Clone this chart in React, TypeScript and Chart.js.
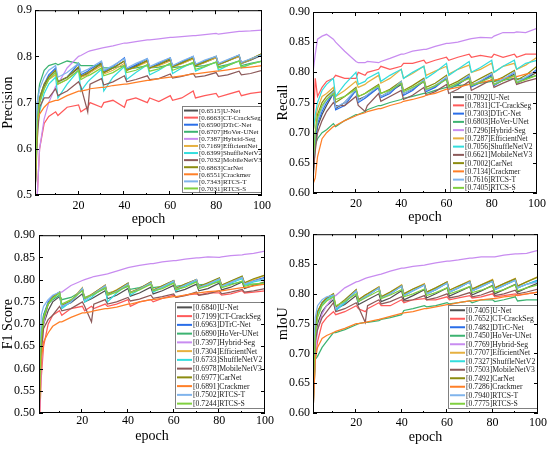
import React, { useEffect, useRef } from 'react';
import { Chart, ChartConfiguration, registerables } from 'chart.js';

Chart.register(...registerables);

const epochs = [1, 2, 3, 5, 7, 10, 11, 15, 20, 21, 24, 25, 30, 31, 35, 40, 41, 45, 50, 51, 55, 60, 61, 65, 70, 71, 75, 80, 81, 85, 90, 91, 95, 100];

const models = ['U-Net', 'CT-CrackSeg', 'DTrC-Net', 'HoVer-UNet', 'Hybrid-Seg', 'EfficientNet', 'ShuffleNetV2', 'MobileNetV3', 'CarNet', 'Crackmer', 'RTCS-T', 'RTCS-S'];

const precisionScores = [0.6515, 0.6663, 0.6590, 0.6707, 0.7387, 0.7169, 0.6399, 0.7032, 0.6863, 0.6551, 0.7343, 0.7031];
const recallScores = [0.7092, 0.7831, 0.7303, 0.6803, 0.7296, 0.7287, 0.7056, 0.6621, 0.7002, 0.7134, 0.7616, 0.7405];
const f1Scores = [0.6840, 0.7199, 0.6963, 0.6890, 0.7397, 0.7304, 0.6733, 0.6978, 0.6977, 0.6891, 0.7502, 0.7244];
const miouScores = [0.7405, 0.7652, 0.7482, 0.7450, 0.7769, 0.7707, 0.7327, 0.7503, 0.7492, 0.7286, 0.7940, 0.7775];

const precision = [
  [0.50, 0.66, 0.70, 0.735, 0.755, 0.77, 0.745, 0.755, 0.775, 0.755, 0.763, 0.766, 0.785, 0.765, 0.775, 0.79, 0.77, 0.78, 0.79, 0.775, 0.782, 0.792, 0.778, 0.785, 0.795, 0.78, 0.787, 0.797, 0.782, 0.79, 0.80, 0.785, 0.792, 0.803],
  [0.40, 0.50, 0.60, 0.655, 0.67, 0.68, 0.672, 0.69, 0.695, 0.68, 0.69, 0.70, 0.69, 0.70, 0.705, 0.69, 0.705, 0.71, 0.70, 0.71, 0.702, 0.715, 0.705, 0.71, 0.725, 0.71, 0.715, 0.72, 0.712, 0.718, 0.725, 0.715, 0.72, 0.723],
  [0.50, 0.67, 0.71, 0.74, 0.76, 0.775, 0.745, 0.755, 0.785, 0.76, 0.768, 0.772, 0.787, 0.768, 0.778, 0.797, 0.772, 0.782, 0.795, 0.775, 0.785, 0.797, 0.778, 0.788, 0.80, 0.782, 0.79, 0.80, 0.783, 0.792, 0.803, 0.785, 0.793, 0.805],
  [0.52, 0.70, 0.74, 0.77, 0.78, 0.785, 0.782, 0.79, 0.785, 0.78, 0.78, 0.78, 0.78, 0.775, 0.775, 0.78, 0.772, 0.775, 0.78, 0.775, 0.777, 0.782, 0.776, 0.778, 0.785, 0.778, 0.78, 0.787, 0.778, 0.782, 0.79, 0.78, 0.785, 0.79],
  [0.45, 0.50, 0.60, 0.665, 0.70, 0.735, 0.74, 0.775, 0.80, 0.802, 0.81, 0.812, 0.818, 0.819, 0.823, 0.829, 0.829, 0.832, 0.836, 0.836, 0.838, 0.841, 0.841, 0.843, 0.845, 0.845, 0.847, 0.85, 0.848, 0.851, 0.854, 0.854, 0.855, 0.857],
  [0.50, 0.65, 0.70, 0.73, 0.75, 0.76, 0.74, 0.75, 0.77, 0.755, 0.76, 0.765, 0.78, 0.762, 0.77, 0.785, 0.77, 0.777, 0.788, 0.775, 0.78, 0.79, 0.777, 0.784, 0.795, 0.78, 0.787, 0.797, 0.782, 0.79, 0.80, 0.785, 0.793, 0.806],
  [0.50, 0.64, 0.68, 0.72, 0.74, 0.755, 0.71, 0.74, 0.77, 0.725, 0.745, 0.75, 0.772, 0.725, 0.755, 0.778, 0.75, 0.765, 0.782, 0.76, 0.77, 0.785, 0.763, 0.775, 0.787, 0.768, 0.777, 0.788, 0.77, 0.78, 0.79, 0.775, 0.783, 0.79],
  [0.50, 0.62, 0.69, 0.71, 0.71, 0.73, 0.715, 0.725, 0.745, 0.735, 0.68, 0.74, 0.752, 0.738, 0.745, 0.758, 0.745, 0.75, 0.758, 0.75, 0.752, 0.762, 0.753, 0.757, 0.763, 0.755, 0.758, 0.765, 0.757, 0.76, 0.768, 0.76, 0.763, 0.77],
  [0.50, 0.66, 0.71, 0.74, 0.755, 0.77, 0.745, 0.755, 0.778, 0.757, 0.765, 0.768, 0.785, 0.765, 0.775, 0.79, 0.77, 0.778, 0.792, 0.775, 0.782, 0.795, 0.778, 0.786, 0.797, 0.78, 0.788, 0.80, 0.783, 0.79, 0.802, 0.786, 0.794, 0.806],
  [0.50, 0.66, 0.675, 0.69, 0.70, 0.705, 0.705, 0.715, 0.725, 0.725, 0.728, 0.73, 0.733, 0.733, 0.737, 0.74, 0.74, 0.744, 0.748, 0.748, 0.752, 0.755, 0.755, 0.758, 0.762, 0.762, 0.765, 0.768, 0.768, 0.771, 0.775, 0.775, 0.777, 0.78],
  [0.55, 0.70, 0.73, 0.755, 0.77, 0.78, 0.755, 0.765, 0.785, 0.765, 0.772, 0.775, 0.79, 0.77, 0.78, 0.795, 0.775, 0.785, 0.795, 0.778, 0.787, 0.797, 0.78, 0.79, 0.80, 0.783, 0.792, 0.80, 0.785, 0.793, 0.803, 0.787, 0.795, 0.804],
  [0.50, 0.66, 0.70, 0.73, 0.75, 0.765, 0.74, 0.75, 0.77, 0.75, 0.758, 0.76, 0.775, 0.758, 0.765, 0.78, 0.765, 0.77, 0.782, 0.768, 0.773, 0.785, 0.77, 0.777, 0.787, 0.772, 0.778, 0.788, 0.775, 0.78, 0.79, 0.777, 0.783, 0.79],
];

const recall = [
  [0.62, 0.68, 0.71, 0.73, 0.745, 0.765, 0.74, 0.75, 0.77, 0.755, 0.76, 0.762, 0.775, 0.76, 0.768, 0.78, 0.765, 0.772, 0.785, 0.77, 0.777, 0.79, 0.775, 0.78, 0.792, 0.778, 0.785, 0.795, 0.78, 0.787, 0.797, 0.783, 0.79, 0.80],
  [0.70, 0.79, 0.76, 0.775, 0.785, 0.79, 0.795, 0.79, 0.79, 0.80, 0.795, 0.80, 0.805, 0.81, 0.805, 0.81, 0.815, 0.815, 0.82, 0.815, 0.82, 0.825, 0.82, 0.825, 0.83, 0.825, 0.828, 0.825, 0.83, 0.825, 0.83, 0.825, 0.83, 0.83],
  [0.64, 0.69, 0.715, 0.735, 0.75, 0.765, 0.738, 0.745, 0.77, 0.75, 0.757, 0.76, 0.775, 0.758, 0.765, 0.783, 0.762, 0.77, 0.787, 0.768, 0.775, 0.79, 0.772, 0.78, 0.793, 0.776, 0.783, 0.796, 0.778, 0.787, 0.80, 0.782, 0.79, 0.805],
  [0.66, 0.68, 0.69, 0.70, 0.705, 0.715, 0.71, 0.72, 0.73, 0.73, 0.735, 0.738, 0.745, 0.745, 0.75, 0.755, 0.757, 0.76, 0.765, 0.765, 0.77, 0.775, 0.775, 0.778, 0.78, 0.78, 0.782, 0.785, 0.785, 0.787, 0.79, 0.789, 0.79, 0.795],
  [0.80, 0.83, 0.855, 0.86, 0.863, 0.855, 0.85, 0.835, 0.818, 0.816, 0.816, 0.818, 0.816, 0.818, 0.823, 0.83, 0.83, 0.835, 0.838, 0.838, 0.843, 0.848, 0.848, 0.85, 0.855, 0.856, 0.858, 0.857, 0.86, 0.866, 0.866, 0.867, 0.866, 0.873],
  [0.70, 0.72, 0.74, 0.76, 0.765, 0.775, 0.76, 0.77, 0.785, 0.775, 0.78, 0.783, 0.795, 0.782, 0.79, 0.805, 0.79, 0.798, 0.81, 0.795, 0.802, 0.81, 0.797, 0.805, 0.812, 0.80, 0.805, 0.815, 0.80, 0.81, 0.815, 0.805, 0.812, 0.825],
  [0.70, 0.73, 0.75, 0.77, 0.78, 0.79, 0.76, 0.78, 0.80, 0.78, 0.785, 0.79, 0.80, 0.785, 0.795, 0.805, 0.79, 0.80, 0.81, 0.79, 0.80, 0.815, 0.795, 0.805, 0.818, 0.80, 0.808, 0.82, 0.80, 0.81, 0.82, 0.805, 0.815, 0.82],
  [0.63, 0.67, 0.70, 0.72, 0.735, 0.75, 0.745, 0.745, 0.76, 0.745, 0.735, 0.745, 0.765, 0.752, 0.76, 0.77, 0.755, 0.762, 0.775, 0.762, 0.768, 0.78, 0.765, 0.772, 0.785, 0.77, 0.778, 0.788, 0.775, 0.782, 0.79, 0.78, 0.785, 0.79],
  [0.66, 0.70, 0.73, 0.75, 0.76, 0.77, 0.75, 0.76, 0.775, 0.76, 0.765, 0.768, 0.78, 0.765, 0.772, 0.785, 0.77, 0.778, 0.79, 0.775, 0.782, 0.795, 0.778, 0.785, 0.797, 0.782, 0.79, 0.80, 0.785, 0.792, 0.803, 0.787, 0.795, 0.81],
  [0.615, 0.625, 0.66, 0.69, 0.70, 0.71, 0.712, 0.72, 0.728, 0.73, 0.733, 0.735, 0.74, 0.74, 0.745, 0.75, 0.752, 0.755, 0.76, 0.762, 0.765, 0.772, 0.772, 0.775, 0.78, 0.78, 0.783, 0.787, 0.787, 0.79, 0.793, 0.793, 0.797, 0.80],
  [0.65, 0.70, 0.72, 0.74, 0.755, 0.768, 0.742, 0.75, 0.772, 0.752, 0.76, 0.763, 0.777, 0.76, 0.768, 0.785, 0.765, 0.773, 0.788, 0.77, 0.778, 0.792, 0.774, 0.782, 0.795, 0.778, 0.786, 0.798, 0.78, 0.789, 0.80, 0.784, 0.792, 0.803],
  [0.65, 0.70, 0.725, 0.745, 0.755, 0.765, 0.755, 0.76, 0.772, 0.76, 0.765, 0.767, 0.778, 0.765, 0.77, 0.782, 0.768, 0.775, 0.785, 0.772, 0.778, 0.788, 0.775, 0.782, 0.79, 0.778, 0.784, 0.792, 0.78, 0.786, 0.795, 0.783, 0.788, 0.795],
];

const f1 = [
  [0.50, 0.66, 0.70, 0.73, 0.75, 0.762, 0.74, 0.748, 0.768, 0.75, 0.757, 0.76, 0.775, 0.757, 0.765, 0.78, 0.763, 0.77, 0.783, 0.768, 0.775, 0.787, 0.772, 0.778, 0.79, 0.775, 0.78, 0.792, 0.777, 0.783, 0.795, 0.78, 0.787, 0.795],
  [0.45, 0.58, 0.65, 0.70, 0.72, 0.73, 0.72, 0.735, 0.74, 0.73, 0.74, 0.735, 0.745, 0.74, 0.745, 0.755, 0.74, 0.75, 0.755, 0.75, 0.758, 0.765, 0.76, 0.765, 0.768, 0.765, 0.77, 0.77, 0.765, 0.768, 0.775, 0.77, 0.772, 0.775],
  [0.52, 0.68, 0.72, 0.75, 0.762, 0.772, 0.74, 0.75, 0.78, 0.755, 0.765, 0.768, 0.787, 0.765, 0.775, 0.792, 0.77, 0.78, 0.794, 0.775, 0.785, 0.798, 0.778, 0.788, 0.80, 0.782, 0.79, 0.803, 0.785, 0.795, 0.805, 0.79, 0.798, 0.805],
  [0.52, 0.68, 0.72, 0.745, 0.755, 0.765, 0.755, 0.76, 0.775, 0.76, 0.765, 0.768, 0.78, 0.77, 0.775, 0.785, 0.778, 0.782, 0.79, 0.782, 0.785, 0.792, 0.785, 0.788, 0.795, 0.788, 0.79, 0.795, 0.788, 0.79, 0.795, 0.79, 0.79, 0.79],
  [0.48, 0.60, 0.70, 0.745, 0.76, 0.772, 0.772, 0.787, 0.798, 0.80, 0.805, 0.807, 0.812, 0.813, 0.819, 0.827, 0.828, 0.832, 0.836, 0.836, 0.84, 0.843, 0.843, 0.846, 0.849, 0.849, 0.851, 0.85, 0.851, 0.854, 0.856, 0.857, 0.859, 0.864],
  [0.50, 0.66, 0.71, 0.745, 0.76, 0.772, 0.742, 0.752, 0.782, 0.758, 0.767, 0.77, 0.788, 0.767, 0.777, 0.792, 0.772, 0.78, 0.795, 0.777, 0.786, 0.798, 0.78, 0.79, 0.80, 0.784, 0.792, 0.803, 0.787, 0.796, 0.807, 0.792, 0.80, 0.81],
  [0.50, 0.66, 0.71, 0.745, 0.758, 0.77, 0.735, 0.75, 0.78, 0.75, 0.76, 0.765, 0.785, 0.75, 0.77, 0.79, 0.765, 0.778, 0.792, 0.772, 0.782, 0.795, 0.775, 0.786, 0.797, 0.78, 0.788, 0.80, 0.783, 0.792, 0.802, 0.787, 0.795, 0.80],
  [0.50, 0.64, 0.69, 0.71, 0.72, 0.74, 0.73, 0.735, 0.75, 0.74, 0.705, 0.745, 0.755, 0.745, 0.75, 0.76, 0.752, 0.756, 0.765, 0.758, 0.762, 0.768, 0.76, 0.764, 0.772, 0.765, 0.768, 0.775, 0.768, 0.772, 0.778, 0.772, 0.775, 0.78],
  [0.50, 0.66, 0.71, 0.745, 0.76, 0.772, 0.742, 0.752, 0.78, 0.757, 0.766, 0.77, 0.787, 0.766, 0.776, 0.792, 0.771, 0.78, 0.795, 0.776, 0.786, 0.798, 0.78, 0.79, 0.80, 0.784, 0.793, 0.804, 0.788, 0.797, 0.808, 0.793, 0.802, 0.81],
  [0.50, 0.62, 0.66, 0.68, 0.695, 0.705, 0.705, 0.715, 0.725, 0.725, 0.728, 0.73, 0.735, 0.735, 0.738, 0.745, 0.745, 0.75, 0.755, 0.755, 0.758, 0.762, 0.762, 0.765, 0.77, 0.77, 0.773, 0.775, 0.775, 0.778, 0.782, 0.782, 0.786, 0.79],
  [0.55, 0.72, 0.74, 0.755, 0.765, 0.772, 0.74, 0.75, 0.78, 0.755, 0.765, 0.768, 0.786, 0.764, 0.774, 0.79, 0.77, 0.779, 0.793, 0.775, 0.784, 0.797, 0.778, 0.788, 0.80, 0.782, 0.79, 0.802, 0.785, 0.794, 0.805, 0.79, 0.797, 0.803],
  [0.50, 0.67, 0.715, 0.745, 0.758, 0.77, 0.745, 0.755, 0.775, 0.758, 0.765, 0.767, 0.782, 0.765, 0.772, 0.787, 0.77, 0.777, 0.79, 0.775, 0.78, 0.792, 0.778, 0.783, 0.795, 0.78, 0.786, 0.797, 0.782, 0.788, 0.797, 0.785, 0.79, 0.793],
];

const miou = [
  [0.62, 0.72, 0.75, 0.77, 0.78, 0.79, 0.775, 0.782, 0.797, 0.782, 0.788, 0.79, 0.80, 0.787, 0.793, 0.805, 0.79, 0.797, 0.807, 0.793, 0.80, 0.81, 0.796, 0.803, 0.812, 0.798, 0.805, 0.814, 0.80, 0.807, 0.816, 0.803, 0.81, 0.818],
  [0.60, 0.69, 0.72, 0.75, 0.76, 0.77, 0.765, 0.77, 0.78, 0.775, 0.77, 0.775, 0.785, 0.78, 0.78, 0.79, 0.785, 0.79, 0.792, 0.79, 0.79, 0.795, 0.79, 0.793, 0.797, 0.793, 0.795, 0.80, 0.795, 0.797, 0.80, 0.797, 0.80, 0.803],
  [0.64, 0.74, 0.77, 0.785, 0.792, 0.798, 0.772, 0.785, 0.805, 0.787, 0.795, 0.797, 0.81, 0.793, 0.80, 0.813, 0.797, 0.805, 0.815, 0.80, 0.807, 0.818, 0.803, 0.81, 0.82, 0.805, 0.812, 0.821, 0.807, 0.814, 0.823, 0.81, 0.816, 0.823],
  [0.60, 0.69, 0.695, 0.71, 0.72, 0.735, 0.735, 0.74, 0.748, 0.75, 0.752, 0.752, 0.755, 0.757, 0.76, 0.765, 0.772, 0.775, 0.78, 0.778, 0.78, 0.785, 0.783, 0.785, 0.788, 0.785, 0.79, 0.79, 0.787, 0.79, 0.795, 0.788, 0.79, 0.79],
  [0.62, 0.70, 0.74, 0.766, 0.78, 0.796, 0.797, 0.81, 0.82, 0.821, 0.826, 0.827, 0.832, 0.833, 0.838, 0.843, 0.843, 0.846, 0.848, 0.849, 0.852, 0.855, 0.855, 0.857, 0.86, 0.86, 0.862, 0.862, 0.862, 0.865, 0.867, 0.867, 0.868, 0.873],
  [0.64, 0.74, 0.77, 0.785, 0.793, 0.80, 0.777, 0.788, 0.807, 0.79, 0.798, 0.80, 0.812, 0.795, 0.803, 0.815, 0.80, 0.808, 0.817, 0.803, 0.81, 0.82, 0.806, 0.813, 0.822, 0.808, 0.815, 0.824, 0.81, 0.817, 0.826, 0.813, 0.82, 0.829],
  [0.64, 0.73, 0.765, 0.782, 0.79, 0.797, 0.772, 0.785, 0.805, 0.787, 0.795, 0.797, 0.81, 0.793, 0.80, 0.813, 0.797, 0.805, 0.815, 0.80, 0.807, 0.818, 0.803, 0.81, 0.82, 0.805, 0.812, 0.821, 0.807, 0.814, 0.823, 0.81, 0.816, 0.822],
  [0.62, 0.72, 0.74, 0.76, 0.77, 0.785, 0.77, 0.775, 0.785, 0.778, 0.752, 0.78, 0.79, 0.783, 0.787, 0.795, 0.788, 0.79, 0.797, 0.79, 0.793, 0.80, 0.793, 0.796, 0.802, 0.795, 0.798, 0.805, 0.797, 0.80, 0.806, 0.80, 0.803, 0.808],
  [0.64, 0.74, 0.77, 0.785, 0.793, 0.80, 0.778, 0.79, 0.807, 0.79, 0.798, 0.80, 0.811, 0.795, 0.803, 0.814, 0.80, 0.808, 0.816, 0.803, 0.81, 0.82, 0.806, 0.813, 0.821, 0.808, 0.815, 0.823, 0.81, 0.817, 0.825, 0.813, 0.82, 0.828],
  [0.60, 0.69, 0.71, 0.725, 0.73, 0.735, 0.737, 0.742, 0.75, 0.75, 0.752, 0.753, 0.757, 0.758, 0.762, 0.767, 0.768, 0.77, 0.775, 0.775, 0.778, 0.782, 0.782, 0.785, 0.788, 0.788, 0.79, 0.792, 0.792, 0.795, 0.797, 0.798, 0.80, 0.803],
  [0.68, 0.76, 0.78, 0.79, 0.795, 0.798, 0.775, 0.787, 0.805, 0.787, 0.795, 0.797, 0.81, 0.793, 0.80, 0.813, 0.797, 0.805, 0.815, 0.80, 0.807, 0.818, 0.803, 0.81, 0.82, 0.805, 0.812, 0.821, 0.807, 0.814, 0.823, 0.81, 0.816, 0.82],
  [0.64, 0.73, 0.76, 0.78, 0.788, 0.795, 0.78, 0.787, 0.80, 0.787, 0.793, 0.795, 0.805, 0.792, 0.798, 0.807, 0.795, 0.80, 0.808, 0.797, 0.802, 0.81, 0.80, 0.805, 0.812, 0.802, 0.806, 0.813, 0.803, 0.807, 0.815, 0.805, 0.81, 0.815],
];

const xTicks = [20, 40, 60, 80, 100];
const xMarks = [10, 20, 30, 40, 50, 60, 70, 80, 90, 100];
const precisionTicks = [0.5, 0.6, 0.7, 0.8, 0.9];
const recallTicks = [0.6, 0.65, 0.7, 0.75, 0.8, 0.85, 0.9];
const f1Ticks = [0.5, 0.55, 0.6, 0.65, 0.7, 0.75, 0.8, 0.85, 0.9];
const miouTicks = [0.6, 0.65, 0.7, 0.75, 0.8, 0.85, 0.9];

const colors = ['#505050', '#ff5a5a', '#2a6ee8', '#3cb371', '#c88cf0', '#e6b040', '#33dddd', '#8c5a5a', '#8c8c10', '#ff7f27', '#80b4ec', '#80d040'];

const FONT = '"Liberation Serif", "Times New Roman", serif';

type LegendOpts = { w: number; h: number; dy: number; size: number; l0: number; l1: number; tx: number };

type PanelSpec = {
  title: string;
  series: number[][];
  scores: number[];
  yTicks: number[];
  digits: number;
  left: number; top: number; w: number; h: number;
  area: { left: number; top: number; right: number; bottom: number };
  yPad: number; xPad: number;
  legend: LegendOpts;
};

const panels: PanelSpec[] = [
  {
    title: 'Precision', series: precision, scores: precisionScores, yTicks: precisionTicks, digits: 1,
    left: 0, top: 0, w: 275, h: 228, area: { left: 35, top: 8, right: 266, bottom: 195 }, yPad: 3, xPad: 4,
    legend: { w: 80, h: 87, dy: 2, size: 7, l0: 2, l1: 16, tx: 17 },
  },
  {
    title: 'Recall', series: recall, scores: recallScores, yTicks: recallTicks, digits: 2,
    left: 275, top: 0, w: 275, h: 226, area: { left: 38, top: 12, right: 266, bottom: 193 }, yPad: 3, xPad: 4,
    legend: { w: 87, h: 101, dy: 0, size: 7.5, l0: 3, l1: 14, tx: 15 },
  },
  {
    title: 'F1 Score', series: f1, scores: f1Scores, yTicks: f1Ticks, digits: 2,
    left: 0, top: 224, w: 275, h: 221, area: { left: 39, top: 6, right: 266, bottom: 189 }, yPad: 4, xPad: 1,
    legend: { w: 90, h: 107, dy: 4, size: 7.7, l0: 2, l1: 17, tx: 18 },
  },
  {
    title: 'mIoU', series: miou, scores: miouScores, yTicks: miouTicks, digits: 2,
    left: 275, top: 224, w: 275, h: 222, area: { left: 38, top: 6, right: 266, bottom: 189 }, yPad: 3, xPad: 3,
    legend: { w: 90, h: 104, dy: 4, size: 7.7, l0: 2, l1: 17, tx: 18 },
  },
];

// Origin-style box frame with inward ticks, plus the legend inside the plot area
const frameLegend = {
  id: 'frameLegend',
  afterDraw(chart: any, _args: any, opts: LegendOpts) {
    const { ctx } = chart;
    const { left, right, top, bottom } = chart.chartArea;
    const sx = chart.scales.x;
    const sy = chart.scales.y;
    ctx.save();

    const bx = Math.round(right - opts.w);
    const by = Math.round(bottom - opts.dy - opts.h);
    ctx.fillStyle = '#ffffff';
    ctx.fillRect(bx, by, opts.w, opts.h);
    ctx.strokeStyle = '#808080';
    ctx.lineWidth = 1;
    ctx.strokeRect(bx + 0.5, by + 0.5, opts.w - 1, opts.h - 1);
    const n = chart.data.datasets.length;
    const rowH = (opts.h - 2) / n;
    ctx.font = `${opts.size}px ${FONT}`;
    ctx.textBaseline = 'middle';
    ctx.textAlign = 'left';
    chart.data.datasets.forEach((ds: any, i: number) => {
      const cy = by + 1 + rowH * (i + 0.5);
      ctx.strokeStyle = ds.borderColor;
      ctx.lineWidth = 2;
      ctx.beginPath();
      ctx.moveTo(bx + opts.l0, cy);
      ctx.lineTo(bx + opts.l1, cy);
      ctx.stroke();
      ctx.fillStyle = '#222222';
      ctx.fillText(ds.label, bx + opts.tx, cy + 0.5);
    });

    ctx.strokeStyle = '#000000';
    ctx.lineWidth = 1;
    ctx.strokeRect(left + 0.5, top + 0.5, right - left - 1, bottom - top - 1);
    const seg = (x0: number, y0: number, x1: number, y1: number) => {
      ctx.beginPath();
      ctx.moveTo(x0, y0);
      ctx.lineTo(x1, y1);
      ctx.stroke();
    };
    xMarks.forEach((v) => {
      const x = Math.round(sx.getPixelForValue(v)) - 0.5;
      const len = xTicks.includes(v) ? 4 : 2;
      seg(x, bottom, x, bottom - len);
      seg(x, top, x, top + len);
    });
    sy.ticks.forEach((t: any) => {
      const y = Math.round(sy.getPixelForValue(t.value)) + 0.5;
      seg(left, y, left + 4, y);
      seg(right, y, right - 4, y);
    });
    ctx.restore();
  },
};

function makeConfig(p: PanelSpec): ChartConfiguration {
  return {
    type: 'line',
    data: {
      datasets: models.map((name, i) => ({
        label: `[${p.scores[i].toFixed(4)}]${name}`,
        data: p.series[i].map((y, k) => ({ x: epochs[k], y })),
        borderColor: colors[i],
        backgroundColor: colors[i],
        borderWidth: 1.25,
        pointRadius: 0,
        tension: 0,
        fill: false,
        order: models.length - i,
      })),
    },
    options: {
      responsive: false,
      animation: false,
      layout: { padding: { left: 0, top: p.area.top, right: p.w - p.area.right, bottom: 0 } },
      plugins: {
        legend: { display: false },
        tooltip: { enabled: false },
        frameLegend: p.legend,
      } as any,
      scales: {
        x: {
          type: 'linear',
          min: 1,
          max: 100,
          afterBuildTicks: (s: any) => {
            s.ticks = xTicks.map((value) => ({ value }));
          },
          afterFit: (s: any) => {
            s.height = p.h - p.area.bottom;
          },
          grid: { display: false, drawTicks: false },
          border: { display: false },
          ticks: { color: '#000', font: { family: FONT, size: 12 }, padding: p.xPad, maxRotation: 0, autoSkip: false },
          title: { display: true, text: 'epoch', color: '#000', font: { family: FONT, size: 14 }, padding: 0 },
        },
        y: {
          type: 'linear',
          min: p.yTicks[0],
          max: p.yTicks[p.yTicks.length - 1],
          afterBuildTicks: (s: any) => {
            s.ticks = p.yTicks.map((value) => ({ value }));
          },
          afterFit: (s: any) => {
            s.width = p.area.left;
          },
          grid: { display: false, drawTicks: false },
          border: { display: false },
          ticks: {
            color: '#000',
            font: { family: FONT, size: 12 },
            padding: p.yPad,
            autoSkip: false,
            callback: (v: any) => Number(v).toFixed(p.digits),
          },
          title: { display: true, text: p.title, color: '#000', font: { family: FONT, size: 14 }, padding: 0 },
        },
      },
    },
    plugins: [frameLegend as any],
  };
}

function Panel({ spec }: { spec: PanelSpec }) {
  const ref = useRef<HTMLCanvasElement>(null);
  useEffect(() => {
    const chart = new Chart(ref.current as HTMLCanvasElement, makeConfig(spec));
    return () => {
      chart.destroy();
    };
  }, [spec]);
  return (
    <canvas
      ref={ref}
      width={spec.w}
      height={spec.h}
      style={{ position: 'absolute', left: spec.left, top: spec.top, width: spec.w, height: spec.h }}
    />
  );
}

export default function App() {
  return (
    <div style={{ position: 'fixed', left: 0, top: 0, width: 550, height: 449, background: '#fff', overflow: 'hidden' }}>
      {panels.map((p) => (
        <Panel key={p.title} spec={p} />
      ))}
    </div>
  );
}
